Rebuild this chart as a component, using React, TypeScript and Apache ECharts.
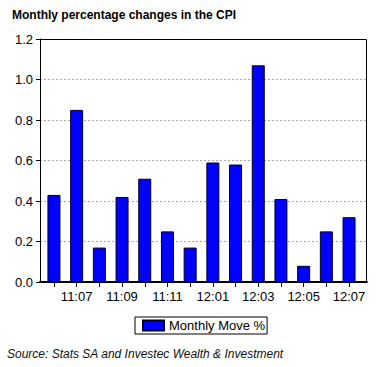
import React, { useEffect, useRef } from "react";
import * as echarts from "echarts";

const categories = ["11:06", "11:07", "11:08", "11:09", "11:10", "11:11", "11:12", "12:01", "12:02", "12:03", "12:04", "12:05", "12:06", "12:07"];
const monthlyMove = [0.43, 0.85, 0.17, 0.42, 0.51, 0.25, 0.17, 0.59, 0.58, 1.07, 0.41, 0.08, 0.25, 0.32];
const yTicks = [0, 0.2, 0.4, 0.6, 0.8, 1.0, 1.2];

const FONT = "'Liberation Sans', Arial, sans-serif";

export default function App() {
  const ref = useRef<HTMLDivElement>(null);
  useEffect(() => {
    if (!ref.current) return;
    const chart = echarts.init(ref.current, undefined, { renderer: "svg" });
    const top = 39;
    const height = 243;
    chart.setOption({
      animation: false,
      backgroundColor: "#fff",
      title: {
        text: "Monthly percentage changes in the CPI",
        left: 7,
        top: 4,
        textStyle: { fontFamily: FONT, fontSize: 12, fontWeight: "bold", color: "#000" },
      },
      grid: [
        { left: 40, top, width: 327, height, show: false },
        { left: 42.6, top, width: 317.8, height, show: false },
      ],
      xAxis: [
        {
          gridIndex: 0,
          type: "value",
          min: 0,
          max: 1,
          axisLine: { show: true, lineStyle: { color: "#000", width: 2 } },
          axisTick: { show: false },
          axisLabel: { show: false },
          splitLine: { show: false },
        },
        {
          gridIndex: 1,
          type: "category",
          data: categories,
          axisLine: { show: false },
          axisTick: { show: true, alignWithLabel: true, interval: 0, length: 5, lineStyle: { color: "#000" } },
          axisLabel: {
            interval: 0,
            margin: 8,
            color: "#000",
            fontFamily: FONT,
            fontSize: 13,
            formatter: (v: string, i: number) => (i % 2 === 1 ? v : ""),
          },
        },
      ],
      yAxis: [
        {
          gridIndex: 0,
          type: "value",
          min: yTicks[0],
          max: yTicks[yTicks.length - 1],
          interval: 0.2,
          axisLine: { show: true, lineStyle: { color: "#000" } },
          axisTick: { show: true, length: 4, lineStyle: { color: "#000" } },
          axisLabel: {
            margin: 7,
            color: "#000",
            fontFamily: FONT,
            fontSize: 13,
            formatter: (v: number) => v.toFixed(1),
          },
          splitLine: { show: true, lineStyle: { color: "#aaa", type: [2, 2], width: 1 } },
        },
        {
          gridIndex: 1,
          type: "value",
          min: yTicks[0],
          max: yTicks[yTicks.length - 1],
          interval: 0.2,
          show: false,
          splitLine: { show: false },
        },
      ],
      legend: {
        left: 135,
        top: 317,
        data: ["Monthly Move %"],
        icon: "rect",
        itemWidth: 21,
        itemHeight: 10,
        itemGap: 5,
        padding: [2, 2, 2, 7],
        borderColor: "#000",
        borderWidth: 1,
        textStyle: { fontFamily: FONT, fontSize: 13, color: "#000", padding: [0, 0, 0, 0] },
      },
      series: [
        {
          name: "Monthly Move %",
          type: "bar",
          xAxisIndex: 1,
          yAxisIndex: 1,
          data: monthlyMove,
          barWidth: 13,
          itemStyle: { color: "#0000ff", borderColor: "#000022", borderWidth: 1 },
        },
      ],
      graphic: [
        {
          type: "rect",
          z: 100,
          shape: { x: 40.5, y: top + 0.5, width: 326, height: height },
          style: { fill: "none", stroke: "#000", lineWidth: 1 },
          silent: true,
        },
        {
          type: "text",
          left: 7,
          top: 348,
          style: {
            text: "Source: Stats SA and Investec Wealth & Investment",
            font: `italic 12px ${FONT}`,
            fill: "#111",
          },
        },
      ],
    });
    return () => chart.dispose();
  }, []);
  return <div ref={ref} style={{ width: 390, height: 367, position: "absolute", left: 0, top: 0 }} />;
}
